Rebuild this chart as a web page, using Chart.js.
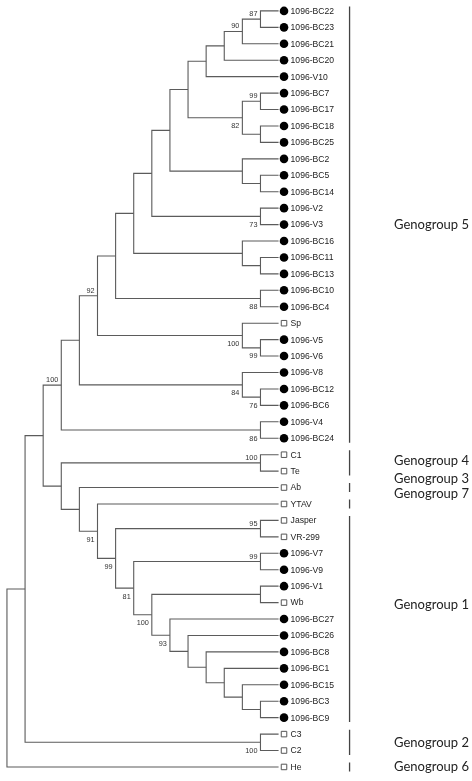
<!DOCTYPE html>
<html>
<head>
<meta charset="utf-8">
<script src="https://cdn.jsdelivr.net/npm/chart.js@4.4.1/dist/chart.umd.min.js"></script>
<style>
  html, body { margin: 0; padding: 0; background: #fff; }
  #wrap { width: 472px; height: 781px; position: relative; }
</style>
</head>
<body>
<div id="wrap"><canvas id="tree"></canvas></div>
<script>
// tree topology with bootstrap support (newick)
const newick =
  "(((((((((((((((1096-BC22,1096-BC23)87,1096-BC21)90,1096-BC20),1096-V10)," +
  "((1096-BC7,1096-BC17)99,(1096-BC18,1096-BC25))82)," +
  "(1096-BC2,(1096-BC5,1096-BC14)))," +
  "(1096-V2,1096-V3)73)," +
  "(1096-BC16,(1096-BC11,1096-BC13)))," +
  "(1096-BC10,1096-BC4)88)," +
  "(Sp,(1096-V5,1096-V6)99)100)92," +
  "(1096-V8,(1096-BC12,1096-BC6)76)84)," +
  "(1096-V4,1096-BC24)86)100," +
  "((C1,Te)100,(Ab,(YTAV,((Jasper,VR-299)95,((1096-V7,1096-V9)99," +
  "((1096-V1,Wb),(1096-BC27,(1096-BC26,(1096-BC8,(1096-BC1,(1096-BC15,(1096-BC3,1096-BC9))))))93)100)81)99)91)))," +
  "(C3,C2)100)," +
  "He);";

// where each bootstrap value sits (in newick order): a = above branch, b = below
const supportSide = ['a','a','a','b','b','b','b','b','a','b','b','b','a','a','a','a','b','b','b','b','b','b'];

// reference strains drawn with an open square, the rest are filled circles
const openLeaves = ['Sp','C1','Te','Ab','YTAV','Jasper','VR-299','Wb','C3','C2','He'];

const groupNames = ['Genogroup 5','Genogroup 4','Genogroup 3','Genogroup 7','Genogroup 1','Genogroup 2','Genogroup 6'];
const groupFirst = ['1096-BC22','C1','Ab','YTAV','Jasper','C3','He'];
const groupLast  = ['1096-BC24','Te','Ab','YTAV','1096-BC9','C2','He'];
const groupLabelShift = [0, -0.15, -0.55, -0.65, -0.9, 0, 0];

const leafLevel = 15;
const markerGap = 0.3;
const bracketX = 18.92;
const lineColor = '#5b5b5b';

function parseNewick(s) {
  let i = 0;
  function node() {
    const n = { children: [] };
    if (s[i] === '(') {
      i++;
      n.children.push(node());
      while (s[i] === ',') { i++; n.children.push(node()); }
      i++;
    }
    let label = '';
    while (i < s.length && !',();'.includes(s[i])) label += s[i++];
    if (n.children.length) n.support = label; else n.name = label;
    return n;
  }
  return node();
}

const leaves = [], internals = [];
function layout(n) {
  if (!n.children.length) {
    n.row = leaves.length; n.h = 0; leaves.push(n);
  } else {
    n.children.forEach(layout);
    n.h = 1 + Math.max(...n.children.map(c => c.h));
    n.row = (n.children[0].row + n.children[n.children.length - 1].row) / 2;
    internals.push(n);
  }
  n.x = leafLevel - n.h;
}
const root = parseNewick(newick);
layout(root);

const datasets = [];
internals.forEach(n => {
  const a = n.children[0], b = n.children[n.children.length - 1];
  datasets.push({
    data: [{x: a.x, y: a.row}, {x: n.x, y: a.row}, {x: n.x, y: b.row}, {x: b.x, y: b.row}],
    showLine: true, borderColor: lineColor, borderWidth: 1.1, pointRadius: 0, fill: false
  });
});

const rowOf = name => leaves.find(l => l.name === name).row;
groupNames.forEach((g, k) => {
  datasets.push({
    data: [{x: bracketX, y: rowOf(groupFirst[k]) - 0.27}, {x: bracketX, y: rowOf(groupLast[k]) + 0.27}],
    showLine: true, borderColor: '#444', borderWidth: 1.3, pointRadius: 0, fill: false
  });
});

datasets.push({
  data: leaves.filter(l => !openLeaves.includes(l.name)).map(l => ({x: leafLevel + markerGap, y: l.row})),
  pointStyle: 'circle', pointRadius: 4.3, backgroundColor: '#000', borderColor: '#000', borderWidth: 0
});
datasets.push({
  data: leaves.filter(l => openLeaves.includes(l.name)).map(l => ({x: leafLevel + markerGap, y: l.row})),
  pointStyle: 'rect', pointRadius: 3.9, backgroundColor: '#fff', borderColor: '#555', borderWidth: 1
});

const textPlugin = {
  id: 'treeText',
  afterDatasetsDraw(chart) {
    const ctx = chart.ctx, xs = chart.scales.x, ys = chart.scales.y;
    ctx.save();
    ctx.textBaseline = 'middle';

    // leaf names
    ctx.fillStyle = '#222';
    ctx.font = '8.6px "Liberation Sans", Arial, sans-serif';
    ctx.textAlign = 'left';
    leaves.forEach(l => {
      ctx.fillText(l.name, xs.getPixelForValue(leafLevel) + 12, ys.getPixelForValue(l.row) + 0.5);
    });

    // bootstrap values
    ctx.fillStyle = '#333';
    ctx.font = '7.3px "Liberation Sans", Arial, sans-serif';
    ctx.textAlign = 'right';
    let k = 0;
    internals.forEach(n => {
      if (!n.support) return;
      const side = supportSide[k++];
      const px = xs.getPixelForValue(n.x) - 3;
      const py = ys.getPixelForValue(n.row) + (side === 'a' ? -5 : 8.5);
      ctx.fillText(n.support, px, py);
    });

    // genogroup labels, squeezed a little to the narrow width of the original face
    ctx.fillStyle = '#222';
    ctx.font = '14px Lato, "Open Sans", sans-serif';
    ctx.textAlign = 'left';
    const sx = 75 / ctx.measureText('Genogroup 5').width;
    groupNames.forEach((g, i) => {
      const mid = (rowOf(groupFirst[i]) + rowOf(groupLast[i])) / 2 + groupLabelShift[i];
      ctx.save();
      ctx.translate(394, ys.getPixelForValue(mid));
      ctx.scale(sx, 1);
      ctx.fillText(g, 0, 0);
      ctx.restore();
    });
    ctx.restore();
  }
};

new Chart(document.getElementById('tree'), {
  type: 'scatter',
  data: { datasets },
  options: {
    responsive: true,
    maintainAspectRatio: false,
    animation: false,
    layout: { padding: 0 },
    plugins: { legend: { display: false }, tooltip: { enabled: false } },
    scales: {
      x: { type: 'linear', display: false, min: -0.108, max: 25.405 },
      y: { type: 'linear', display: false, reverse: true, min: -0.36, max: 46.55 }
    }
  },
  plugins: [textPlugin]
});
</script>
</body>
</html>
